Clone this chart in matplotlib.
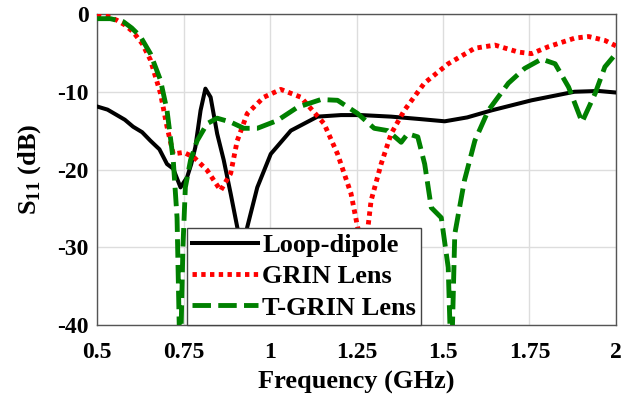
import numpy as np
import matplotlib.pyplot as plt

# Loop-dipole
f_loop = [0.5, 0.53, 0.557, 0.58, 0.604, 0.63, 0.654, 0.68, 0.702, 0.72, 0.741, 0.76, 0.772,
          0.784, 0.799, 0.813, 0.828, 0.847, 0.866, 0.886, 0.905, 0.92, 0.934, 0.963, 1.002,
          1.06, 1.137, 1.205, 1.263, 1.35, 1.43, 1.505, 1.57, 1.64, 1.756, 1.88, 1.95, 2.0]
s_loop = [-11.9, -12.3, -13.0, -13.6, -14.5, -15.2, -16.3, -17.4, -19.3, -19.9, -22.3, -21.0, -19.3,
          -17.1, -12.4, -9.6, -10.7, -15.4, -18.8, -23.1, -27.4, -30.5, -27.4, -22.3, -18.0,
          -15.0, -13.2, -13.0, -13.0, -13.2, -13.5, -13.8, -13.3, -12.4, -11.1, -10.0, -9.9, -10.1]

# GRIN Lens
f_grin = [0.5, 0.53, 0.557, 0.58, 0.604, 0.63, 0.654, 0.683, 0.702, 0.72, 0.75, 0.779, 0.818,
          0.857, 0.886, 0.905, 0.934, 0.982, 1.031, 1.089, 1.156, 1.195, 1.234, 1.253, 1.275,
          1.292, 1.321, 1.35, 1.388, 1.446, 1.515, 1.592, 1.65, 1.718, 1.756, 1.805, 1.881,
          1.921, 1.968, 2.0]
s_grin = [0.0, -0.3, -0.8, -1.4, -2.3, -3.8, -5.9, -10.2, -14.5, -18.0, -17.8, -18.4, -20.1,
          -22.7, -20.5, -16.3, -12.8, -10.7, -9.7, -10.7, -14.1, -18.0, -23.1, -27.4, -30.5,
          -24.0, -19.3, -15.4, -12.4, -8.9, -6.4, -4.4, -4.0, -4.9, -5.1, -4.2, -3.1,
          -2.9, -3.4, -4.1]

# T-GRIN Lens
f_tgrin = [0.5, 0.538, 0.576, 0.6, 0.625, 0.654, 0.683, 0.702, 0.72, 0.731, 0.74, 0.748, 0.755,
           0.77, 0.789, 0.818, 0.847, 0.886, 0.924, 0.963, 1.021, 1.079, 1.147, 1.195, 1.253,
           1.301, 1.34, 1.379, 1.398, 1.427, 1.447, 1.466, 1.495, 1.515, 1.524, 1.534, 1.562,
           1.592, 1.631, 1.689, 1.736, 1.785, 1.824, 1.863, 1.902, 1.94, 1.968, 2.0]
s_tgrin = [-0.6, -0.6, -1.0, -1.8, -2.9, -5.1, -8.5, -12.4, -18.8, -26.2, -46.0, -30.0, -22.3,
           -18.8, -16.3, -14.1, -13.4, -13.9, -14.7, -14.7, -13.7, -12.0, -11.0, -11.1, -12.8,
           -14.7, -15.0, -16.5, -15.4, -15.8, -19.3, -24.9, -26.2, -32.6, -46.0, -28.3, -21.4,
           -16.3, -12.4, -8.9, -7.0, -5.8, -6.4, -9.4, -13.9, -10.2, -6.8, -5.1]

xticks = [0.5, 0.75, 1, 1.25, 1.5, 1.75, 2]
xtick_labels = ['0.5', '0.75', '1', '1.25', '1.5', '1.75', '2']
yticks = [-40, -30, -20, -10, 0]

plt.rcParams['font.family'] = ['Liberation Serif', 'DejaVu Serif']
plt.rcParams['font.weight'] = 'bold'
plt.rcParams['axes.unicode_minus'] = False
plt.rcParams['mathtext.fontset'] = 'custom'
plt.rcParams['mathtext.rm'] = 'Liberation Serif:bold'
plt.rcParams['mathtext.bf'] = 'Liberation Serif:bold'

fig = plt.figure(figsize=(6.35, 4.0), dpi=100)
ax = fig.add_axes([0.153, 0.1875, 0.817, 0.7775])

ax.plot(f_loop, s_loop, color='black', lw=2.9, label='Loop-dipole', zorder=3)
ax.plot(f_grin, s_grin, color='red', lw=3.5, linestyle=(0, (0.9, 0.9)), label='GRIN Lens', zorder=4)
ax.plot(f_tgrin, s_tgrin, color='green', lw=3.5, linestyle=(0, (3.8, 1.5)), label='T-GRIN Lens', zorder=5)

ax.set_xlim(0.5, 2)
ax.set_ylim(-40, 0)
ax.set_xticks(xticks)
ax.set_xticklabels(xtick_labels)
ax.set_yticks(yticks)
ax.tick_params(labelsize=17, direction='in', length=0)
ax.tick_params(axis='x', pad=12)
ax.tick_params(axis='y', pad=6)
for lab in ax.get_xticklabels() + ax.get_yticklabels():
    lab.set_fontweight('bold')
ax.grid(True, color='#dddddd', lw=1)
ax.set_axisbelow(True)
for sp in ax.spines.values():
    sp.set_color('#555555')
    sp.set_linewidth(1)

ax.set_xlabel('Frequency (GHz)', fontsize=19, fontweight='bold', labelpad=6)
ax.set_ylabel(r'S$_{11}$ (dB)', fontsize=19, fontweight='bold', labelpad=10)

leg = ax.legend(loc='lower left', bbox_to_anchor=(0.173, 0.0), fontsize=19, frameon=True,
                fancybox=False, edgecolor='#444444', framealpha=1, handlelength=2.5,
                borderpad=0.2, labelspacing=0.3, handletextpad=0.15, borderaxespad=0)
for t in leg.get_texts():
    t.set_fontweight('bold')
leg.get_frame().set_linewidth(1)

fig.savefig('out.png', dpi=100)
